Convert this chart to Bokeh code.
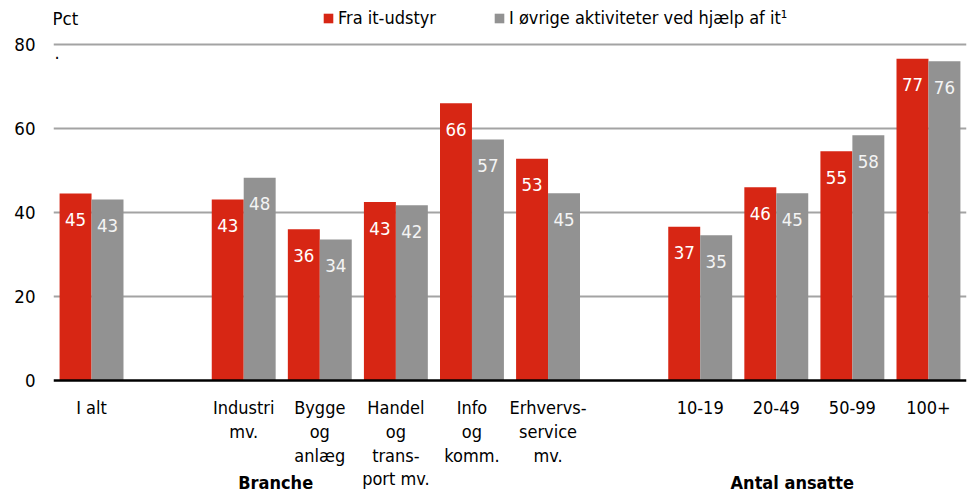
from bokeh.plotting import figure
from bokeh.models import (FactorRange, Range1d, FixedTicker, Label, Legend,
                          LegendItem, ColumnDataSource)
from bokeh.transform import dodge
from bokeh.core.properties import value
from bokeh.embed import file_html
from bokeh.resources import INLINE

FONT = "DejaVu Sans Condensed"

# ---- data ----
categories = ["I alt", " ", "Industri\nmv.", "Bygge\nog\nanlæg",
              "Handel\nog\ntrans-\nport mv.", "Info\nog\nkomm.",
              "Erhvervs-\nservice\nmv.", "  ", "10-19", "20-49", "50-99", "100+"]
bar_categories = ["I alt", "Industri\nmv.", "Bygge\nog\nanlæg",
                  "Handel\nog\ntrans-\nport mv.", "Info\nog\nkomm.",
                  "Erhvervs-\nservice\nmv.", "10-19", "20-49", "50-99", "100+"]
fra_it = [44.5, 43.1, 36.0, 42.5, 66.0, 52.8, 36.6, 46.0, 54.6, 76.6]
oevrige = [43.1, 48.3, 33.6, 41.7, 57.4, 44.6, 34.6, 44.6, 58.4, 76.0]
fra_it_labels = ["45", "43", "36", "43", "66", "53", "37", "46", "55", "77"]
oevrige_labels = ["43", "48", "34", "42", "57", "45", "35", "45", "58", "76"]
series_names = ["Fra it-udstyr", "I øvrige aktiviteter ved hjælp af it¹"]
y_ticks = [0, 20, 40, 60, 80]
group_labels = ["Branche", "Antal ansatte"]
unit_label = "Pct"

RED = "#D72614"
GRAY = "#929292"

src = ColumnDataSource(dict(cat=bar_categories, a=fra_it, b=oevrige,
                            la=fra_it_labels, lb=oevrige_labels))

p = figure(x_range=FactorRange(*categories), y_range=Range1d(-26.67, 90.48),
           width=970, height=492, output_backend="svg", toolbar_location=None,
           min_border_left=53, min_border_right=4, min_border_top=0,
           min_border_bottom=0)
p.outline_line_color = None
p.background_fill_color = None
p.border_fill_color = None
p.x_range.range_padding = 0

bw = 0.42
r1 = p.vbar(x=dodge("cat", -bw / 2, range=p.x_range), top="a", bottom=0, width=bw,
            source=src, fill_color=RED, line_color=None)
r2 = p.vbar(x=dodge("cat", bw / 2, range=p.x_range), top="b", bottom=0, width=bw,
            source=src, fill_color=GRAY, line_color=None)

p.text(x=dodge("cat", -bw / 2, range=p.x_range), y="a", text="la", source=src,
       text_color="white", text_align="center", text_baseline="middle",
       y_offset=26, text_font=value(FONT), text_font_size="18.5px")
p.text(x=dodge("cat", bw / 2, range=p.x_range), y="b", text="lb", source=src,
       text_color="#f4f4f4", text_align="center", text_baseline="middle",
       y_offset=26, text_font=value(FONT), text_font_size="18.5px")

# grid
p.xgrid.grid_line_color = None
p.ygrid.ticker = FixedTicker(ticks=y_ticks[1:])
p.ygrid.grid_line_color = "#a3a3a3"
p.ygrid.grid_line_width = 2

# y axis
p.yaxis.ticker = FixedTicker(ticks=y_ticks)
p.yaxis.axis_line_color = None
p.yaxis.major_tick_line_color = None
p.yaxis.minor_tick_line_color = None
p.yaxis.major_tick_out = 0
p.yaxis.major_tick_in = 0
p.yaxis.major_label_standoff = 18
p.yaxis.major_label_text_font = FONT
p.yaxis.major_label_text_font_size = "18.5px"
p.yaxis.major_label_text_color = "black"

# x axis, pinned at y = 0
p.xaxis.fixed_location = 0
p.xaxis.axis_line_color = "black"
p.xaxis.axis_line_width = 2.5
p.xaxis.major_tick_line_color = None
p.xaxis.minor_tick_line_color = None
p.xaxis.major_tick_out = 0
p.xaxis.major_tick_in = 0
p.xaxis.major_label_standoff = 17
p.xaxis.major_label_text_font = FONT
p.xaxis.major_label_text_font_size = "18px"
p.xaxis.major_label_text_color = "black"
p.xaxis.major_label_text_line_height = 1.12

# group labels
for gx, gt in zip([2.92, 9.71], group_labels):
    p.add_layout(Label(x=gx, y=-24.3, text=gt, text_align="center",
                       text_baseline="alphabetic", text_font=FONT,
                       text_font_style="bold", text_font_size="18px",
                       text_color="black"))

# unit label
p.add_layout(Label(x=0, y=86.2, x_offset=-1, text=unit_label, text_align="left",
                   text_baseline="middle", text_font=FONT, text_font_size="18.5px",
                   text_color="black"))
p.add_layout(Label(x=0, y=78.0, x_offset=1, text=".", text_align="left",
                   text_baseline="middle", text_font=FONT, text_font_size="18px",
                   text_color="black"))

legend = Legend(items=[LegendItem(label=series_names[0], renderers=[r1]),
                       LegendItem(label=series_names[1], renderers=[r2])],
                orientation="horizontal", location=(269, 464),
                label_text_font=FONT, label_text_font_size="18px",
                label_text_color="black",
                glyph_width=12, glyph_height=12, label_standoff=4, spacing=57,
                padding=0, margin=0, border_line_color=None,
                background_fill_alpha=0, label_height=20)
p.add_layout(legend, "center")

open("out.html", "w").write(file_html(p, INLINE))
